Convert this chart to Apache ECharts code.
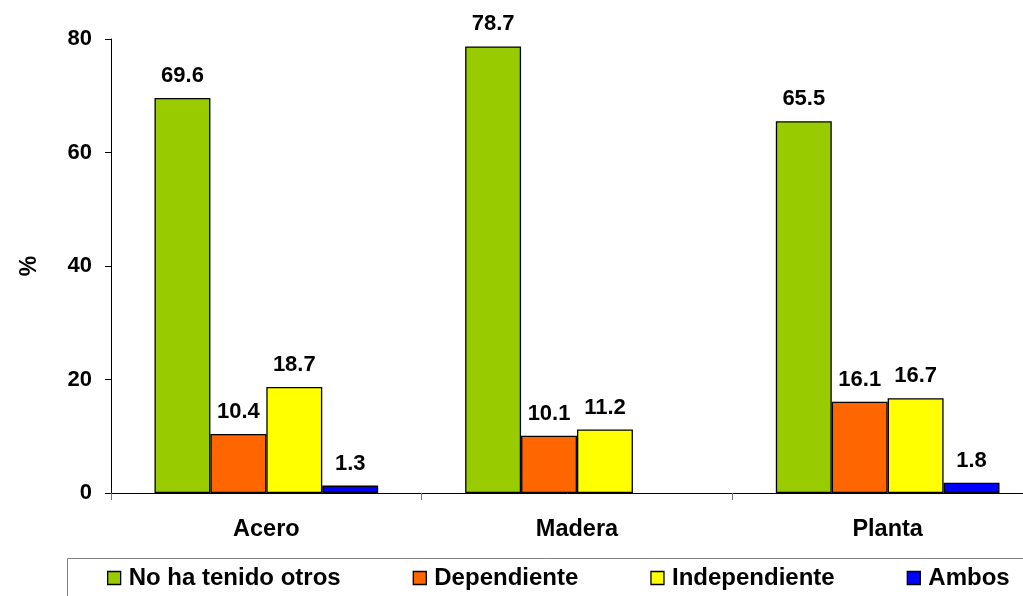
<!DOCTYPE html>
<html>
<head>
<meta charset="utf-8">
<script src="https://cdn.jsdelivr.net/npm/echarts@6/dist/echarts.min.js"></script>
<style>
  html, body { margin: 0; padding: 0; background: #fff; }
  #chart { width: 1023px; height: 596px; }
</style>
</head>
<body>
<div id="chart"></div>
<script>
// Categories and series values (percent)
const categories = ['Acero', 'Madera', 'Planta'];
const seriesNames = ['No ha tenido otros', 'Dependiente', 'Independiente', 'Ambos'];
const noHaTenidoOtros = [69.6, 78.7, 65.5];
const dependiente = [10.4, 10.1, 16.1];
const independiente = [18.7, 11.2, 16.7];
const ambos = [1.3, null, 1.8];
const yTicks = [0, 20, 40, 60, 80];

const colors = ['#99CC00', '#FF6600', '#FFFF00', '#0000FF'];
const values = [noHaTenidoOtros, dependiente, independiente, ambos];
const fontFamily = '"Liberation Sans", Arial, sans-serif';

const chart = echarts.init(document.getElementById('chart'), null, { renderer: 'canvas' });

const series = seriesNames.map((name, i) => ({
  name: name,
  type: 'bar',
  data: values[i],
  barGap: '0%',
  barCategoryGap: '28%',
  itemStyle: { color: colors[i], borderColor: '#000', borderWidth: 1.3 },
  label: {
    show: true,
    position: 'top',
    distance: 11,
    formatter: p => p.value == null ? '' : p.value.toFixed(1),
    color: '#000',
    fontWeight: 'bold',
    fontSize: 22,
    fontFamily: fontFamily
  }
}));

chart.setOption({
  animation: false,
  backgroundColor: '#fff',
  color: colors,
  // the plot runs a little past the right edge of the canvas
  grid: { left: 111, top: 39, bottom: 103, width: 932, containLabel: false, outerBoundsMode: 'none' },
  xAxis: {
    type: 'category',
    data: categories,
    axisLine: { lineStyle: { color: '#000', width: 1 } },
    axisTick: { show: true, length: 7, lineStyle: { color: '#777' } },
    axisLabel: {
      margin: 25,
      color: '#000',
      fontWeight: 'bold',
      fontSize: 23.5,
      fontFamily: fontFamily
    }
  },
  yAxis: {
    type: 'value',
    min: yTicks[0],
    max: yTicks[yTicks.length - 1],
    interval: 20,
    name: '%',
    nameLocation: 'middle',
    nameGap: 70,
    nameRotate: 90,
    nameTextStyle: { color: '#000', fontWeight: 'bold', fontSize: 23, fontFamily: fontFamily },
    axisLine: { show: true, lineStyle: { color: '#000', width: 1 } },
    axisTick: { show: true, length: 6, lineStyle: { color: '#000' } },
    splitLine: { show: false },
    axisLabel: {
      margin: 19,
      color: '#000',
      fontWeight: 'bold',
      fontSize: 22,
      fontFamily: fontFamily
    }
  },
  legend: {
    data: seriesNames,
    left: 107,
    top: 566,
    padding: 0,
    itemWidth: 13,
    itemHeight: 13,
    itemGap: 72,
    icon: 'rect',
    itemStyle: { borderColor: '#000', borderWidth: 1.3 },
    textStyle: { color: '#000', fontWeight: 'bold', fontSize: 24, fontFamily: fontFamily, padding: [0, 0, 0, 3] }
  },
  graphic: [{
    type: 'rect',
    shape: { x: 67.5, y: 558.5, width: 1000, height: 60 },
    style: { fill: 'none', stroke: '#808080', lineWidth: 1 },
    silent: true,
    z: -1
  }],
  series: series
});
</script>
</body>
</html>
